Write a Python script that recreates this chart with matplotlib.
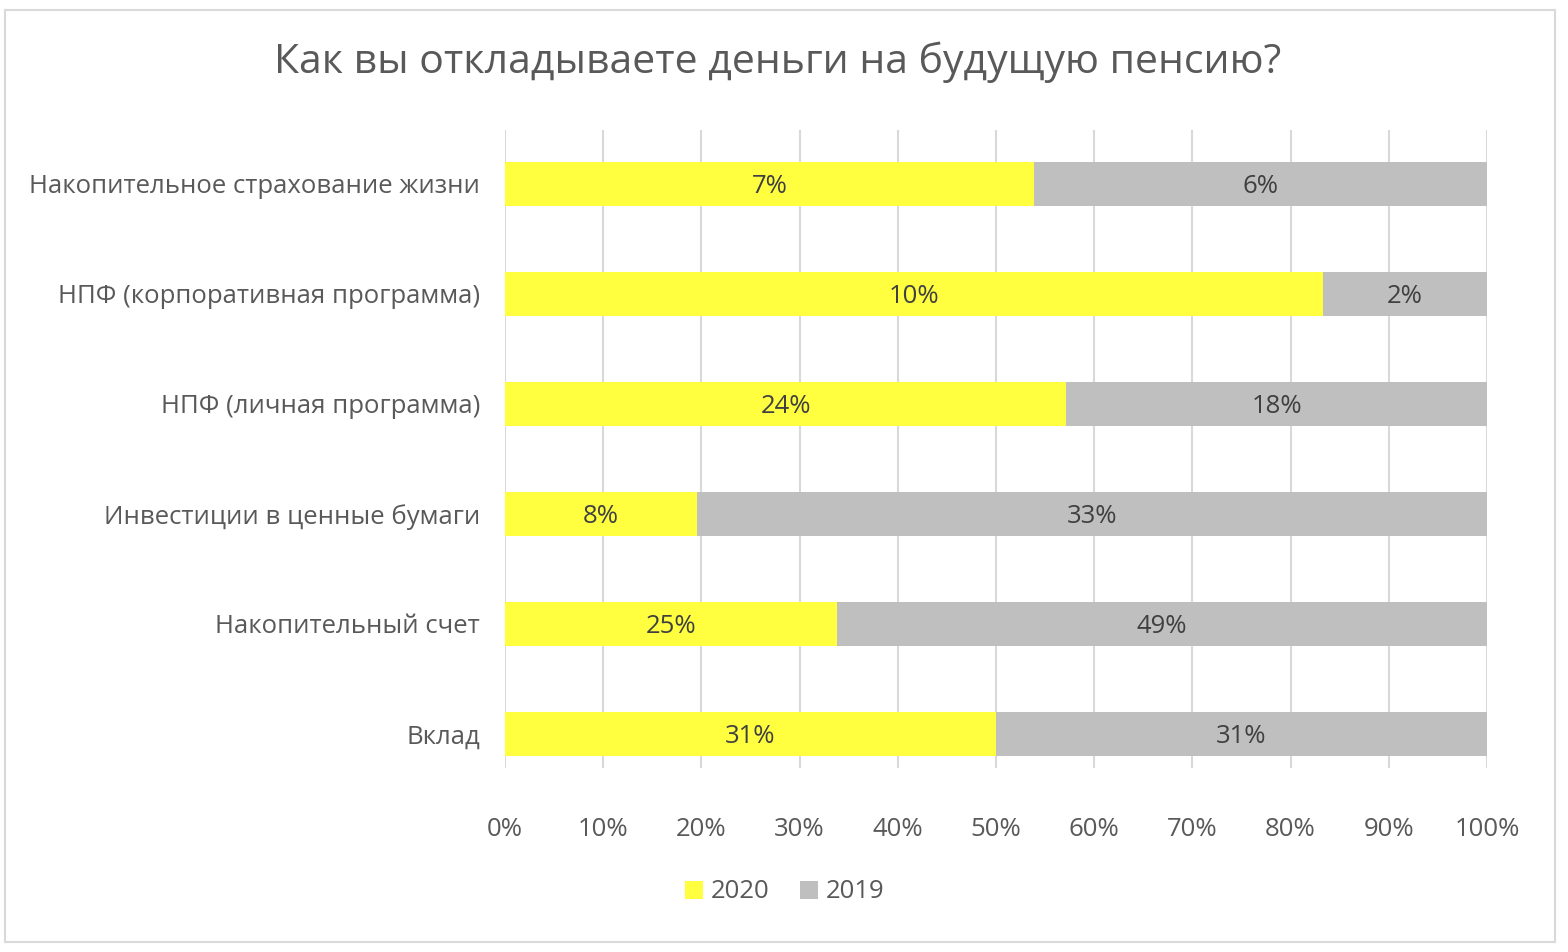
import numpy as np
import matplotlib.pyplot as plt
from matplotlib.patches import Rectangle

categories = ['Накопительное страхование жизни', 'НПФ (корпоративная программа)',
              'НПФ (личная программа)', 'Инвестиции в ценные бумаги',
              'Накопительный счет', 'Вклад']
vals_2020 = [7, 10, 24, 8, 25, 31]
vals_2019 = [6, 2, 18, 33, 49, 31]
xticks = [0, 10, 20, 30, 40, 50, 60, 70, 80, 90, 100]

plt.rcParams['font.family'] = ['Open Sans', 'DejaVu Sans']

c2020 = '#FFFF40'
c2019 = '#BFBFBF'
tcol = '#595959'

fig = plt.figure(figsize=(15.68, 9.52), dpi=100)
# outer border like the Excel chart frame
fig.patches.append(Rectangle((5/1568, 10/952), 1550/1568, 932/952, transform=fig.transFigure,
                             fill=False, edgecolor='#D9D9D9', linewidth=1.5))

ax = fig.add_axes([505/1568, 1 - 768/952, (1487-505)/1568, (768-130)/952])

a = np.array(vals_2020, dtype=float)
b = np.array(vals_2019, dtype=float)
tot = a + b
p20 = a / tot * 100
p19 = b / tot * 100
y = np.arange(len(categories))

bars1 = ax.barh(y, p20, height=0.4, color=c2020, label='2020', zorder=3)
bars2 = ax.barh(y, p19, left=p20, height=0.4, color=c2019, label='2019', zorder=3)

for i in range(len(categories)):
    ax.text(p20[i] / 2, y[i], f'{vals_2020[i]}%', ha='center', va='center_baseline',
            fontsize=18.5, color='#404040', zorder=4)
    ax.text(p20[i] + p19[i] / 2, y[i], f'{vals_2019[i]}%', ha='center', va='center_baseline',
            fontsize=18.5, color='#404040', zorder=4)

ax.set_xlim(0, 100)
ax.set_ylim(5.31, -0.49)
ax.set_xticks(xticks)
ax.set_xticklabels([f'{t}%' for t in xticks])
ax.set_yticks(y)
ax.set_yticklabels(categories)
ax.tick_params(axis='both', length=0, labelsize=18.5, labelcolor=tcol)
ax.tick_params(axis='x', pad=35)
ax.tick_params(axis='y', pad=18)
ax.xaxis.grid(True, color='#D9D9D9', linewidth=1.5, zorder=0)
for s in ax.spines.values():
    s.set_visible(False)

fig.suptitle('Как вы откладываете деньги на будущую пенсию?', x=778/1568, y=1 - 62/952,
             va='center', fontsize=29.5, color=tcol)

fig.legend(handles=[bars1, bars2], loc='center', bbox_to_anchor=(785/1568, 1 - 892/952),
           ncol=2, frameon=False, fontsize=18.5, labelcolor=tcol, handlelength=0.7,
           handleheight=0.7, handletextpad=0.3, columnspacing=1.2)

plt.savefig('out.png')
